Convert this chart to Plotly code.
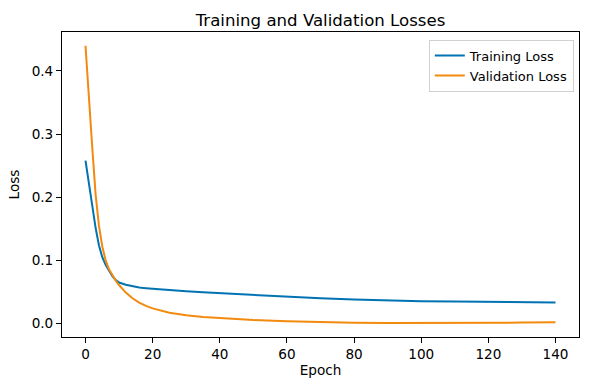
import plotly.graph_objects as go

epochs = [0, 1, 2, 3, 4, 5, 6, 7, 8, 9, 10, 12, 14, 16, 18, 20, 25, 30, 35, 40,
          50, 60, 70, 80, 90, 100, 110, 120, 130, 140]
training_loss = [0.258, 0.222, 0.188, 0.152, 0.124, 0.105, 0.093, 0.083, 0.075, 0.069,
                 0.065, 0.0615, 0.059, 0.057, 0.056, 0.055, 0.053, 0.051, 0.0495, 0.048,
                 0.045, 0.042, 0.040, 0.038, 0.0365, 0.0355, 0.0348, 0.0342, 0.0338, 0.0335]
validation_loss = [0.440, 0.355, 0.280, 0.205, 0.155, 0.122, 0.100, 0.086, 0.076, 0.068,
                   0.061, 0.049, 0.040, 0.033, 0.028, 0.024, 0.017, 0.013, 0.0105, 0.0085,
                   0.0055, 0.0035, 0.002, 0.0012, 0.0008, 0.0007, 0.0008, 0.0011, 0.0015, 0.0019]

x_ticks = [0, 20, 40, 60, 80, 100, 120, 140]
y_ticks = [0.0, 0.1, 0.2, 0.3, 0.4]

FONT = "DejaVu Sans"
W, H = 590, 390

fig = go.Figure()
fig.add_trace(go.Scatter(x=epochs, y=training_loss, mode="lines", name="Training Loss",
                         line=dict(color="#0173B2", width=2)))
fig.add_trace(go.Scatter(x=epochs, y=validation_loss, mode="lines", name="Validation Loss",
                         line=dict(color="#F28A0E", width=2)))

axis_common = dict(showgrid=False, zeroline=False, showline=True, linecolor="black",
                   linewidth=1, mirror=True, ticks="outside", ticklen=5, tickwidth=1,
                   tickcolor="black", tickfont=dict(family=FONT, size=13.6, color="black"))

fig.update_layout(
    width=W, height=H,
    margin=dict(l=62, r=11, t=32, b=53),
    paper_bgcolor="white", plot_bgcolor="white",
    font=dict(family=FONT, color="black"),
    title=dict(text="Training and Validation Losses", x=0.5, xanchor="center",
               xref="paper",
               y=1 - 20 / H, yanchor="middle", font=dict(family=FONT, size=16.6, color="black")),
    xaxis=dict(range=[-7, 147], tickvals=x_ticks, ticktext=[str(v) for v in x_ticks],
               title=dict(text="Epoch", font=dict(family=FONT, size=13.6), standoff=4),
               **axis_common),
    yaxis=dict(range=[-0.0213, 0.4617], tickvals=y_ticks,
               ticktext=[f"{v:.1f}" for v in y_ticks],
               title=dict(text="Loss", font=dict(family=FONT, size=13.6), standoff=8),
               **axis_common),
    legend=dict(x=0.99, y=0.975, xanchor="right", yanchor="top",
                bgcolor="rgba(255,255,255,0.8)", bordercolor="#d0d0d0", borderwidth=1,
                font=dict(family=FONT, size=13, color="black"),
                tracegroupgap=0, itemwidth=30),
    showlegend=True,
)

fig.write_html("out.html",
               config={"displayModeBar": False},
               post_script="document.body.style.margin='0';document.body.style.overflow='hidden';")
